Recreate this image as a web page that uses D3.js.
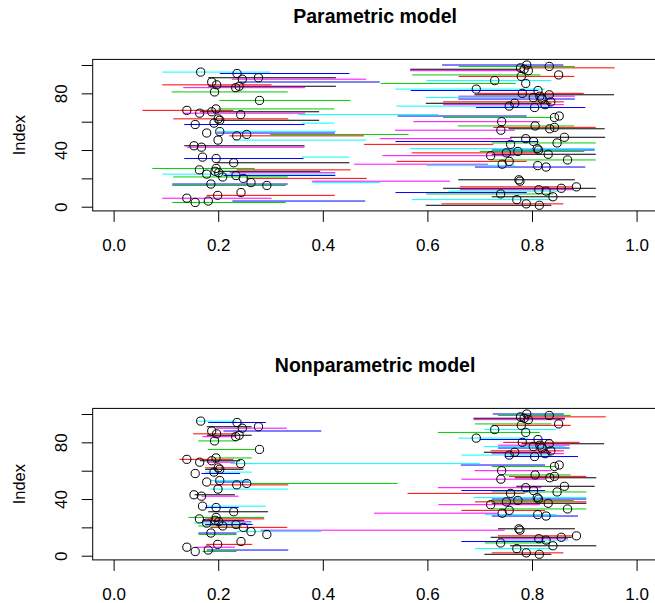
<!DOCTYPE html>
<html>
<head>
<meta charset="utf-8">
<script src="https://cdn.jsdelivr.net/npm/d3@7"></script>
<style>
  body { margin: 0; background: #fff; }
  svg { display: block; }
</style>
</head>
<body>
<div id="chart"></div>
<script>

// circles, one per index (1..100), same in both panels
const estimates = [
  0.814, 0.789, 0.156, 0.181, 0.771, 0.140, 0.840, 0.199, 0.740, 0.2436,
  0.827, 0.813, 0.856, 0.885, 0.293, 0.186, 0.2627, 0.777, 0.775, 0.248,
  0.2086, 0.234, 0.178, 0.201, 0.194, 0.164, 0.196, 0.827, 0.811, 0.743,
  0.2296, 0.7565, 0.868, 0.196, 0.170, 0.721, 0.831, 0.751, 0.773, 0.8125,
  0.810, 0.168, 0.1537, 0.759, 0.848, 0.803, 0.1996, 0.788, 0.862, 0.2354,
  0.2545, 0.178, 0.203, 0.7405, 0.834, 0.843, 0.806, 0.156, 0.192, 0.742,
  0.203, 0.200, 0.843, 0.852, 0.243, 0.1646, 0.1876, 0.140, 0.1958, 0.805,
  0.7565, 0.825, 0.767, 0.836, 0.279, 0.819, 0.8025, 0.815, 0.833, 0.7815,
  0.193, 0.8115, 0.6935, 0.2335, 0.240, 0.197, 0.788, 0.1876, 0.7287, 0.246,
  0.277, 0.7795, 0.851, 0.236, 0.1665, 0.793, 0.785, 0.778, 0.833, 0.790
];

const paramLower = [
  0.597, 0.627, 0.112, 0.227, 0.570, 0.093, 0.723, 0.178, 0.598, 0.539,
  0.640, 0.662, 0.630, 0.662, 0.112, 0.112, 0.380, 0.379, 0.659, 0.254,
  0.114, 0.210, 0.093, 0.222, 0.200, 0.235, 0.074, 0.691, 0.598, 0.460,
  0.197, 0.541, 0.723, 0.135, 0.360, 0.514, 0.723, 0.570, 0.700, 0.723,
  0.567, 0.140, 0.135, 0.479, 0.723, 0.539, 0.229, 0.509, 0.758, 0.221,
  0.299, 0.197, 0.197, 0.538, 0.755, 0.726, 0.658, 0.135, 0.360, 0.573,
  0.197, 0.114, 0.630, 0.543, 0.353, 0.133, 0.165, 0.055, 0.200, 0.693,
  0.541, 0.630, 0.597, 0.630, 0.202, 0.659, 0.597, 0.659, 0.690, 0.697,
  0.111, 0.568, 0.539, 0.133, 0.181, 0.093, 0.511, 0.242, 0.598, 0.226,
  0.181, 0.660, 0.571, 0.203, 0.093, 0.567, 0.567, 0.777, 0.660, 0.628
];
const paramUpper = [
  0.837, 0.860, 0.329, 0.481, 0.837, 0.302, 0.922, 0.423, 0.840, 0.790,
  0.850, 0.879, 0.922, 0.879, 0.329, 0.333, 0.509, 0.643, 0.882, 0.484,
  0.333, 0.424, 0.424, 0.424, 0.395, 0.453, 0.270, 0.902, 0.767, 0.716,
  0.451, 0.790, 0.922, 0.363, 0.451, 0.767, 0.922, 0.812, 0.900, 0.920,
  0.920, 0.365, 0.365, 0.726, 0.922, 0.812, 0.483, 0.761, 0.940, 0.479,
  0.564, 0.423, 0.425, 0.767, 0.939, 0.922, 0.881, 0.365, 0.422, 0.815,
  0.393, 0.334, 0.840, 0.790, 0.621, 0.366, 0.393, 0.229, 0.422, 0.902,
  0.837, 0.861, 0.837, 0.861, 0.453, 0.882, 0.834, 0.882, 0.957, 0.899,
  0.333, 0.812, 0.825, 0.366, 0.425, 0.302, 0.769, 0.509, 0.837, 0.483,
  0.425, 0.881, 0.816, 0.451, 0.299, 0.780, 0.777, 0.958, 0.882, 0.860
];

const nonparamLower = [
  0.709, 0.723, 0.170, 0.178, 0.691, 0.157, 0.758, 0.177, 0.710, 0.665,
  0.740, 0.735, 0.721, 0.735, 0.162, 0.162, 0.235, 0.281, 0.735, 0.185,
  0.162, 0.175, 0.154, 0.171, 0.170, 0.181, 0.143, 0.723, 0.710, 0.498,
  0.181, 0.665, 0.723, 0.175, 0.178, 0.621, 0.723, 0.691, 0.720, 0.723,
  0.688, 0.168, 0.155, 0.562, 0.723, 0.665, 0.185, 0.620, 0.770, 0.186,
  0.261, 0.194, 0.186, 0.665, 0.767, 0.756, 0.748, 0.168, 0.175, 0.690,
  0.175, 0.175, 0.723, 0.664, 0.223, 0.178, 0.165, 0.126, 0.191, 0.748,
  0.665, 0.723, 0.708, 0.721, 0.180, 0.735, 0.708, 0.735, 0.780, 0.745,
  0.162, 0.700, 0.659, 0.170, 0.178, 0.152, 0.620, 0.210, 0.709, 0.196,
  0.178, 0.723, 0.691, 0.181, 0.158, 0.688, 0.688, 0.786, 0.735, 0.725
];
const nonparamUpper = [
  0.837, 0.860, 0.235, 0.334, 0.837, 0.232, 0.923, 0.265, 0.834, 0.825,
  0.870, 0.869, 0.876, 0.879, 0.235, 0.235, 0.397, 0.748, 0.882, 0.332,
  0.245, 0.266, 0.263, 0.264, 0.250, 0.288, 0.288, 0.888, 0.847, 0.735,
  0.295, 0.825, 0.904, 0.239, 0.291, 0.815, 0.904, 0.904, 0.880, 0.904,
  0.904, 0.239, 0.232, 0.786, 0.904, 0.825, 0.334, 0.818, 0.920, 0.334,
  0.543, 0.260, 0.262, 0.825, 0.923, 0.904, 0.874, 0.242, 0.264, 0.837,
  0.248, 0.248, 0.847, 0.825, 0.700, 0.232, 0.242, 0.229, 0.264, 0.888,
  0.837, 0.861, 0.837, 0.861, 0.270, 0.872, 0.863, 0.872, 0.938, 0.891,
  0.235, 0.837, 0.793, 0.235, 0.264, 0.235, 0.815, 0.397, 0.846, 0.331,
  0.264, 0.874, 0.837, 0.291, 0.235, 0.863, 0.863, 0.941, 0.874, 0.861
];

const panelTitles = ["Parametric model", "Nonparametric model"];
const segmentColors = ["black", "red", "#00CD00", "blue", "cyan", "magenta"];

const xTickValues = [0, 0.2, 0.4, 0.6, 0.8, 1.0];
const yTickValues = [0, 20, 40, 60, 80, 100];
const yTickLabels = ["0", "", "40", "", "80", ""];

const width = 655, height = 603;
const plotLeft = 92.7, plotRight = 657.5, plotHeight = 151.5;
const panelTops = [59.4, 408.4];
const fontFamily = "'Liberation Sans', Arial, Helvetica, sans-serif";

const svg = d3.select("#chart")
    .append("svg")
    .attr("width", width)
    .attr("height", height);

const xScale = d3.scaleLinear()
    .domain([-0.04, 1.04])
    .range([plotLeft, plotRight]);

drawPanel(0, paramLower, paramUpper);
drawPanel(1, nonparamLower, nonparamUpper);

function drawPanel(p, lower, upper) {
    const top = panelTops[p];
    const bottom = top + plotHeight;

    const yScale = d3.scaleLinear()
        .domain([-2.96, 103.96])
        .range([bottom, top]);

    const panel = svg.append("g");

    // intervals
    panel.append("g")
        .selectAll("line")
        .data(estimates)
        .join("line")
        .attr("x1", (d, i) => xScale(lower[i]))
        .attr("x2", (d, i) => xScale(upper[i]))
        .attr("y1", (d, i) => yScale(i + 1))
        .attr("y2", (d, i) => yScale(i + 1))
        .attr("stroke", (d, i) => segmentColors[i % segmentColors.length])
        .attr("stroke-width", 1);

    // points
    panel.append("g")
        .selectAll("circle")
        .data(estimates)
        .join("circle")
        .attr("cx", d => xScale(d))
        .attr("cy", (d, i) => yScale(i + 1))
        .attr("r", 4.1)
        .attr("fill", "none")
        .attr("stroke", "black")
        .attr("stroke-width", 1);

    // box
    panel.append("rect")
        .attr("x", plotLeft)
        .attr("y", top)
        .attr("width", plotRight - plotLeft)
        .attr("height", plotHeight)
        .attr("fill", "none")
        .attr("stroke", "black")
        .attr("stroke-width", 1);

    // x axis
    const xAxis = panel.append("g")
        .attr("transform", "translate(0," + bottom + ")")
        .call(d3.axisBottom(xScale)
            .tickValues(xTickValues)
            .tickFormat(d3.format(".1f"))
            .tickSize(11)
            .tickSizeOuter(0));
    xAxis.select(".domain").remove();
    xAxis.attr("font-size", 17).attr("font-family", fontFamily);
    xAxis.selectAll("text")
        .attr("y", 40.5)
        .attr("dy", null)
        .attr("fill", "black");

    // y axis
    const yAxis = panel.append("g")
        .attr("transform", "translate(" + plotLeft + ",0)")
        .call(d3.axisLeft(yScale)
            .tickValues(yTickValues)
            .tickFormat((d, i) => yTickLabels[i])
            .tickSize(11)
            .tickSizeOuter(0));
    yAxis.select(".domain").remove();
    yAxis.attr("font-size", 17).attr("font-family", fontFamily);
    yAxis.selectAll("text")
        .attr("x", null)
        .attr("dy", null)
        .attr("text-anchor", "middle")
        .attr("fill", "black")
        .attr("transform", "translate(-25.5,0) rotate(-90)");

    // y label
    panel.append("text")
        .attr("transform", "translate(25," + (top + plotHeight / 2) + ") rotate(-90)")
        .attr("text-anchor", "middle")
        .style("font-family", fontFamily)
        .style("font-size", "16.5px")
        .text("Index");

    // title
    panel.append("text")
        .attr("x", (plotLeft + plotRight) / 2)
        .attr("y", top - 36)
        .attr("text-anchor", "middle")
        .style("font-family", fontFamily)
        .style("font-size", "19.5px")
        .style("font-weight", "bold")
        .text(panelTitles[p]);
}
</script>
</body>
</html>
